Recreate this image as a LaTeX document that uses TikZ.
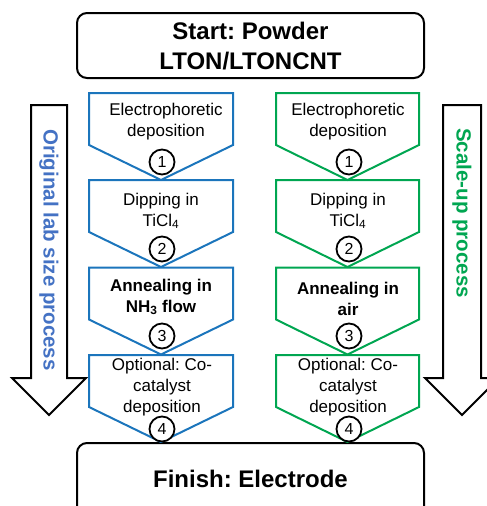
\documentclass[tikz,border=0pt]{standalone}
\usepackage{fontspec}
\setmainfont{Liberation Sans}
\definecolor{labblue}{RGB}{27,117,188}
\definecolor{labtext}{RGB}{68,114,196}
\definecolor{scalegreen}{RGB}{0,166,81}
\frenchspacing
\begin{document}
\begin{tikzpicture}[x=1pt,y=-1pt,
  frame/.style={draw=black,line width=2pt,rounded corners=10pt},
  chev/.style={line width=2pt,line join=miter},
  stepnum/.style={circle,draw=black,line width=1.8pt,fill=white,minimum size=25pt,inner sep=0pt,font=\fontsize{16}{16}\selectfont},
  steptext/.style={align=center,font=\fontsize{17}{21}\selectfont,inner sep=0pt},
  stepbold/.style={steptext,font=\bfseries\fontsize{17}{21}\selectfont},
  bigarrow/.style={draw=black,line width=2pt,fill=white,line join=miter},
  sidelabel/.style={rotate=-90,font=\bfseries\fontsize{20.5}{20}\selectfont,inner sep=0pt}]
\useasboundingbox (0,0) rectangle (487,506);
\clip (0,0) rectangle (487,506);

% side arrows
\draw[bigarrow] (31,105) -- (67,105) -- (67,378) -- (86,378) -- (49,415) -- (12,378) -- (31,378) -- cycle;
\draw[bigarrow] (443,105) -- (481,105) -- (481,378) -- (499,378) -- (462,415) -- (425,378) -- (443,378) -- cycle;
\node[sidelabel,text=labtext] (lablbl) at (49,250) {Original lab size process};
\node[sidelabel,text=scalegreen] (scalelbl) at (462,213) {Scale-up process};

% start and finish boxes
\draw[frame] (77,13) rectangle (424,78);
\node[font=\bfseries\fontsize{24}{30}\selectfont,align=center] (start) at (250.5,46) {Start: Powder\\LTON/LTONCNT};
\draw[frame] (77,443) rectangle (424,540);
\node[font=\bfseries\fontsize{24}{30}\selectfont] (finish) at (250.5,479) {Finish: Electrode};

% chevrons of both columns
\foreach \t in {93,180,267.5,355}{
  \draw[chev,draw=labblue] (89,\t) -- (233,\t) -- (233,\t+52) -- (161,\t+87) -- (89,\t+52) -- cycle;
  \draw[chev,draw=scalegreen] (276,\t) -- (419,\t) -- (419,\t+52) -- (347.5,\t+87) -- (276,\t+52) -- cycle;
}

% step texts, lab column
\node[steptext] (b1) at (166,122) {Electrophoretic\\deposition};
\node[steptext] (b2) at (161,211) {Dipping in\\TiCl\textsubscript{4}};
\node[stepbold] (b3) at (161,297) {Annealing in\\NH\textsubscript{3} flow};
\node[steptext] (b4) at (162,387) {Optional: Co-\\catalyst\\deposition};

% step texts, scale-up column
\node[steptext] (g1) at (348,122) {Electrophoretic\\deposition};
\node[steptext] (g2) at (348,211) {Dipping in\\TiCl\textsubscript{4}};
\node[stepbold] (g3) at (348,299) {Annealing in\\air};
\node[steptext] (g4) at (348,387) {Optional: Co-\\catalyst\\deposition};

% step numbers
\foreach \n/\y in {1/162,2/249,3/336,4/429}{
  \node[stepnum] (bn\n) at (162,\y) {\n};
  \node[stepnum] (gn\n) at (349,\y) {\n};
}
\end{tikzpicture}
\end{document}
